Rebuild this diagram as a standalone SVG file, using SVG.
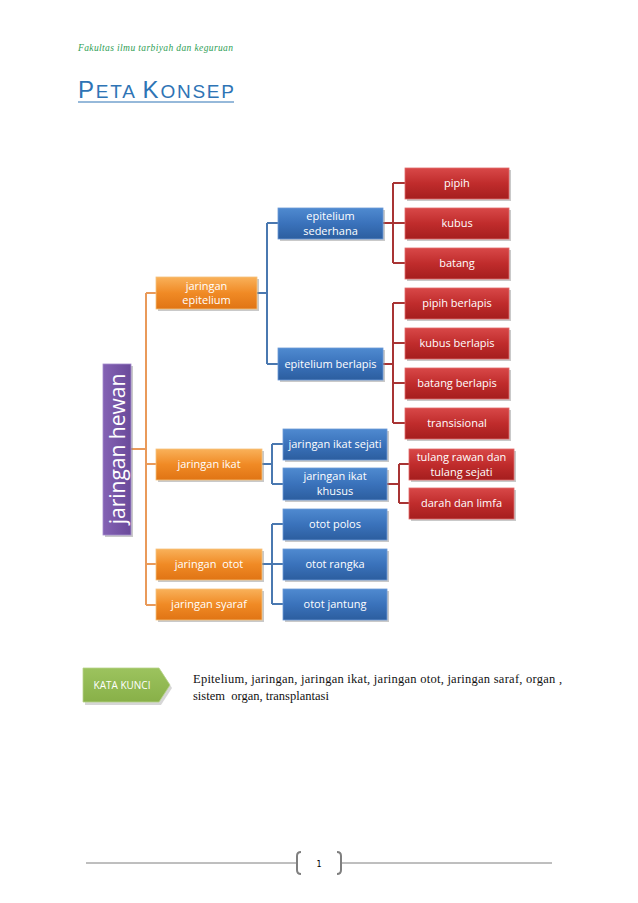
<svg xmlns="http://www.w3.org/2000/svg" width="638" height="903" viewBox="0 0 638 903">
<defs>
<linearGradient id="gO" x1="0" y1="0" x2="0" y2="1"><stop offset="0" stop-color="#f9b15a"/><stop offset="0.5" stop-color="#f08a25"/><stop offset="1" stop-color="#e07414"/></linearGradient>
<linearGradient id="gB" x1="0" y1="0" x2="0" y2="1"><stop offset="0" stop-color="#4f8ad0"/><stop offset="0.5" stop-color="#3a72bb"/><stop offset="1" stop-color="#2c5e9f"/></linearGradient>
<linearGradient id="gR" x1="0" y1="0" x2="0" y2="1"><stop offset="0" stop-color="#d84848"/><stop offset="0.5" stop-color="#c02c2c"/><stop offset="1" stop-color="#a51e1e"/></linearGradient>
<linearGradient id="gP" x1="0" y1="0" x2="1" y2="0"><stop offset="0" stop-color="#8462b4"/><stop offset="1" stop-color="#6a4a9a"/></linearGradient>
<linearGradient id="gG" x1="0" y1="0" x2="0" y2="1"><stop offset="0" stop-color="#9cc35e"/><stop offset="1" stop-color="#88b048"/></linearGradient>
</defs>
<style>
.sh{fill:#888;opacity:0.45}
.o{fill:url(#gO);stroke:#f6c27e;stroke-width:0.8}
.b{fill:url(#gB);stroke:#6c9ad6;stroke-width:0.8}
.r{fill:url(#gR);stroke:#e06a6a;stroke-width:0.8}
.t{font-family:"Open Sans","Liberation Sans",sans-serif;font-size:11px;fill:#fff;text-anchor:middle}
.lo{stroke:#e99a5a;stroke-width:2;fill:none}
.lb{stroke:#4a78b0;stroke-width:2;fill:none}
.lr{stroke:#a83434;stroke-width:2;fill:none}
</style>

<g id="header">
<text x="78" y="51" font-family="Liberation Serif, serif" font-style="italic" font-size="9.5" fill="#2f9e55" textLength="155" lengthAdjust="spacing">Fakultas ilmu tarbiyah dan keguruan</text>
<text x="78" y="98" font-family="Liberation Sans, sans-serif" font-size="24" fill="#2e74b5" textLength="156" lengthAdjust="spacing"><tspan>P</tspan><tspan font-size="19">ETA </tspan><tspan>K</tspan><tspan font-size="19">ONSEP</tspan></text>
<line x1="78" y1="102" x2="234" y2="102" stroke="#2e74b5" stroke-width="1.2"/>
</g>

<g id="connectors">
<path class="lo" d="M131 449H146M146 293V605M146 293H156M146 464H156M146 564H156M146 605H156"/>
<path class="lb" d="M257 293H267M267 223V364M267 223H278M267 364H278"/>
<path class="lb" d="M262 464H272M272 444V484M272 444H283M272 484H283"/>
<path class="lb" d="M262 564H272M272 524V604M272 524H283M272 564H283M272 604H283"/>
<path class="lr" d="M383 223H393M393 183V263M393 183H405M393 223H405M393 263H405"/>
<path class="lr" d="M383 364H393M393 303V423M393 303H405M393 343H405M393 383H405M393 423H405"/>
<path class="lr" d="M387 484H399M399 464V503M399 464H409M399 503H409"/>
</g>

<g id="root">
<rect class="sh" x="105" y="366" width="28" height="171"/>
<rect x="103" y="364" width="28" height="171" fill="url(#gP)" stroke="#a48ccc" stroke-width="0.8"/>
<text transform="translate(124.5 449) rotate(-90)" font-family="Open Sans, Liberation Sans, sans-serif" font-size="21" fill="#fff" text-anchor="middle">jaringan hewan</text>
</g>

<g id="n-epitelium"><rect class="sh" x="158" y="279" width="101" height="32"/><rect class="o" x="156" y="277" width="101" height="32"/><text class="t" x="206.5" y="290">jaringan</text><text class="t" x="206.5" y="304">epitelium</text></g>
<g id="n-ikat"><rect class="sh" x="158" y="451" width="106" height="31"/><rect class="o" x="156" y="449" width="106" height="31"/><text class="t" x="209" y="468">jaringan ikat</text></g>
<g id="n-otot"><rect class="sh" x="158" y="551" width="106" height="31"/><rect class="o" x="156" y="549" width="106" height="31"/><text class="t" x="209" y="568" xml:space="preserve">jaringan  otot</text></g>
<g id="n-syaraf"><rect class="sh" x="158" y="591" width="106" height="31"/><rect class="o" x="156" y="589" width="106" height="31"/><text class="t" x="209" y="608">jaringan syaraf</text></g>

<g id="n-sederhana"><rect class="sh" x="280" y="210" width="105" height="31"/><rect class="b" x="278" y="208" width="105" height="31"/><text class="t" x="330.5" y="220">epitelium</text><text class="t" x="330.5" y="235">sederhana</text></g>
<g id="n-berlapis"><rect class="sh" x="280" y="350" width="105" height="32"/><rect class="b" x="278" y="348" width="105" height="32"/><text class="t" x="330.5" y="368">epitelium berlapis</text></g>
<g id="n-sejati"><rect class="sh" x="285" y="431" width="104" height="31"/><rect class="b" x="283" y="429" width="104" height="31"/><text class="t" x="335" y="448">jaringan ikat sejati</text></g>
<g id="n-khusus"><rect class="sh" x="285" y="470" width="104" height="32"/><rect class="b" x="283" y="468" width="104" height="32"/><text class="t" x="335" y="480">jaringan ikat</text><text class="t" x="335" y="495">khusus</text></g>
<g id="n-polos"><rect class="sh" x="285" y="511" width="104" height="31"/><rect class="b" x="283" y="509" width="104" height="31"/><text class="t" x="335" y="528">otot polos</text></g>
<g id="n-rangka"><rect class="sh" x="285" y="551" width="104" height="31"/><rect class="b" x="283" y="549" width="104" height="31"/><text class="t" x="335" y="568">otot rangka</text></g>
<g id="n-jantung"><rect class="sh" x="285" y="591" width="104" height="31"/><rect class="b" x="283" y="589" width="104" height="31"/><text class="t" x="335" y="608">otot jantung</text></g>

<g id="n-pipih"><rect class="sh" x="407" y="170" width="104" height="31"/><rect class="r" x="405" y="168" width="104" height="31"/><text class="t" x="457" y="187">pipih</text></g>
<g id="n-kubus"><rect class="sh" x="407" y="210" width="104" height="31"/><rect class="r" x="405" y="208" width="104" height="31"/><text class="t" x="457" y="227">kubus</text></g>
<g id="n-batang"><rect class="sh" x="407" y="250" width="104" height="31"/><rect class="r" x="405" y="248" width="104" height="31"/><text class="t" x="457" y="267">batang</text></g>
<g id="n-pipihb"><rect class="sh" x="407" y="290" width="104" height="31"/><rect class="r" x="405" y="288" width="104" height="31"/><text class="t" x="457" y="307">pipih berlapis</text></g>
<g id="n-kubusb"><rect class="sh" x="407" y="330" width="104" height="31"/><rect class="r" x="405" y="328" width="104" height="31"/><text class="t" x="457" y="347">kubus berlapis</text></g>
<g id="n-batangb"><rect class="sh" x="407" y="370" width="104" height="31"/><rect class="r" x="405" y="368" width="104" height="31"/><text class="t" x="457" y="387">batang berlapis</text></g>
<g id="n-trans"><rect class="sh" x="407" y="410" width="104" height="31"/><rect class="r" x="405" y="408" width="104" height="31"/><text class="t" x="457" y="427">transisional</text></g>
<g id="n-tulang"><rect class="sh" x="411" y="451" width="105" height="31"/><rect class="r" x="409" y="449" width="105" height="31"/><text class="t" x="461.5" y="461">tulang rawan dan</text><text class="t" x="461.5" y="476">tulang sejati</text></g>
<g id="n-darah"><rect class="sh" x="411" y="490" width="105" height="31"/><rect class="r" x="409" y="488" width="105" height="31"/><text class="t" x="461.5" y="507">darah dan limfa</text></g>

<g id="katakunci">
<polygon points="85,671 161,671 172,688 161,705 85,705" fill="#999" opacity="0.4"/>
<polygon points="83,668 159,668 170,685 159,702 83,702" fill="url(#gG)" stroke="#b7d38a" stroke-width="0.8"/>
<text x="122" y="689" font-family="Open Sans, Liberation Sans, sans-serif" font-size="10" fill="#fff" text-anchor="middle">KATA KUNCI</text>
</g>
<g id="keywords" font-family="Liberation Serif, serif" font-size="12.5" fill="#111">
<text x="193" y="683" textLength="369" lengthAdjust="spacing">Epitelium, jaringan, jaringan ikat, jaringan otot, jaringan saraf, organ ,</text>
<text x="193" y="700" xml:space="preserve">sistem  organ, transplantasi</text>
</g>

<g id="footer" stroke="#7f7f7f" fill="none">
<line x1="86" y1="863" x2="296" y2="863" stroke-width="1"/>
<line x1="342" y1="863" x2="552" y2="863" stroke-width="1"/>
<path d="M301 852Q297 852 297 856V870Q297 874 301 874" stroke-width="2"/>
<path d="M337 852Q341 852 341 856V870Q341 874 337 874" stroke-width="2"/>
<text x="319" y="867" font-family="DejaVu Sans, sans-serif" font-size="8" fill="#000" stroke="none" text-anchor="middle">1</text>
</g>
</svg>
